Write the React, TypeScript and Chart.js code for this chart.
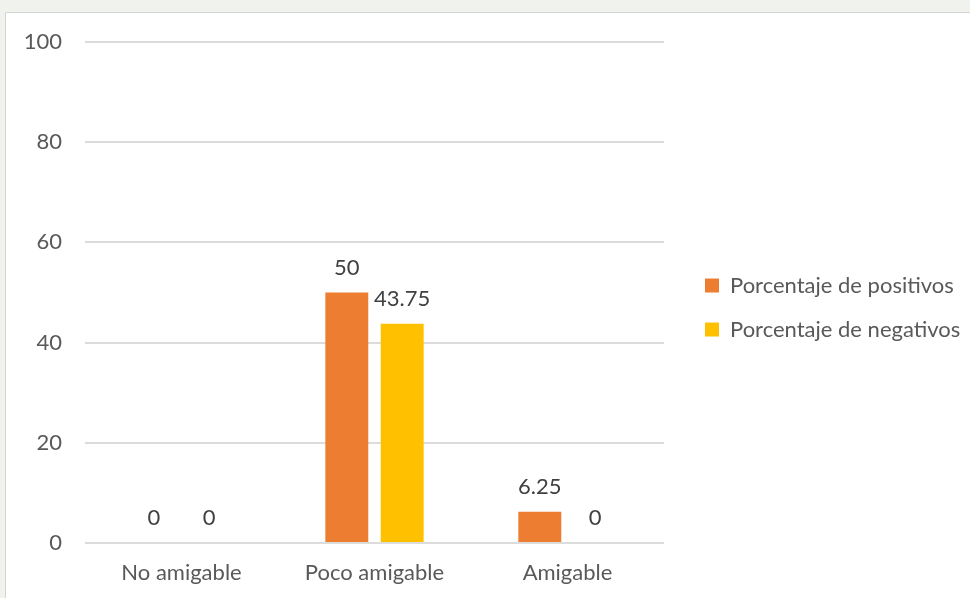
import React, { useEffect, useRef } from "react";
import { Chart, registerables } from "chart.js";

Chart.register(...registerables);

const categories = ["No amigable", "Poco amigable", "Amigable"];
const positivos = [0, 50, 6.25];
const negativos = [0, 43.75, 0];
const seriesNames = ["Porcentaje de positivos", "Porcentaje de negativos"];
const seriesColors = ["#ED7D31", "#FFC000"];
const yMin = 0;
const yMax = 100;
const yStep = 20;

const FONT = "Lato, 'Open Sans', sans-serif";
const FONT_SIZE = 22;
const LEGEND_WIDTH = 287;

const valueLabels = {
  id: "valueLabels",
  afterDatasetsDraw(chart: any) {
    const ctx = chart.ctx;
    ctx.save();
    ctx.font = `${FONT_SIZE}px ${FONT}`;
    ctx.fillStyle = "#404040";
    ctx.textAlign = "center";
    ctx.textBaseline = "alphabetic";
    chart.data.datasets.forEach((ds: any, i: number) => {
      const meta = chart.getDatasetMeta(i);
      meta.data.forEach((bar: any, j: number) => {
        const v = ds.data[j];
        ctx.fillText(String(v), bar.x, bar.y - 18);
      });
    });
    ctx.restore();
  },
};

// let the right-hand legend take the width it needs (Chart.js caps side boxes)
const legendWidth = {
  id: "legendWidth",
  beforeLayout(chart: any) {
    const lg = chart.legend;
    if (lg && !lg.__wide) {
      const orig = lg.fit.bind(lg);
      lg.fit = function () {
        orig();
        this.width = LEGEND_WIDTH;
      };
      lg.__wide = true;
    }
  },
};

export default function App() {
  const ref = useRef<HTMLCanvasElement | null>(null);

  useEffect(() => {
    if (!ref.current) return;
    const chart = new Chart(ref.current, {
      type: "bar",
      data: {
        labels: categories,
        datasets: [
          {
            label: seriesNames[0],
            data: positivos,
            backgroundColor: seriesColors[0],
            categoryPercentage: 0.574,
            barPercentage: 0.775,
          },
          {
            label: seriesNames[1],
            data: negativos,
            backgroundColor: seriesColors[1],
            categoryPercentage: 0.574,
            barPercentage: 0.775,
          },
        ],
      },
      options: {
        animation: false,
        responsive: false,
        devicePixelRatio: 1,
        layout: { padding: { top: 29, right: 0, bottom: 0, left: 0 } },
        plugins: {
          tooltip: { enabled: false },
          legend: {
            position: "right",
            align: "center",
            fullSize: false,
            title: {
              display: true,
              text: " ",
              font: { size: 10 },
              padding: { top: 9, bottom: 9 },
            },
            labels: {
              boxWidth: 14,
              boxHeight: 14,
              padding: 22,
              color: "#595959",
              font: { family: FONT, size: FONT_SIZE },
            },
          },
        },
        scales: {
          x: {
            grid: { display: false, drawTicks: false },
            border: { display: false },
            ticks: {
              color: "#595959",
              padding: 17,
              font: { family: FONT, size: FONT_SIZE },
            },
            afterFit: (s: any) => {
              s.height = 55;
            },
          },
          y: {
            min: yMin,
            max: yMax,
            ticks: {
              stepSize: yStep,
              color: "#595959",
              padding: 23,
              font: { family: FONT, size: FONT_SIZE },
            },
            grid: { color: "#DCDCDC", lineWidth: 2, drawTicks: false },
            border: { display: false },
            afterFit: (s: any) => {
              s.width = 79;
              s.paddingTop = 0;
              s.paddingBottom = 0;
            },
          },
          y2: {
            position: "right",
            display: true,
            grid: { display: false, drawTicks: false },
            border: { display: false },
            ticks: { display: false },
            afterFit: (s: any) => {
              s.width = 19;
              s.paddingTop = 0;
              s.paddingBottom = 0;
            },
          },
        },
      },
      plugins: [valueLabels, legendWidth],
    });
    return () => chart.destroy();
  }, []);

  return (
    <div
      style={{
        position: "absolute",
        left: 0,
        top: 0,
        width: 970,
        height: 598,
        background: "#f0f2ee",
        overflow: "hidden",
      }}
    >
      <div
        style={{
          position: "absolute",
          left: 5,
          top: 12,
          width: 964,
          height: 585,
          background: "#ffffff",
          borderLeft: "1px solid #d4d4d4",
          borderTop: "1px solid #d4d4d4",
        }}
      >
        <canvas
          ref={ref}
          width={964}
          height={585}
          style={{ display: "block", width: 964, height: 585 }}
        />
      </div>
    </div>
  );
}
